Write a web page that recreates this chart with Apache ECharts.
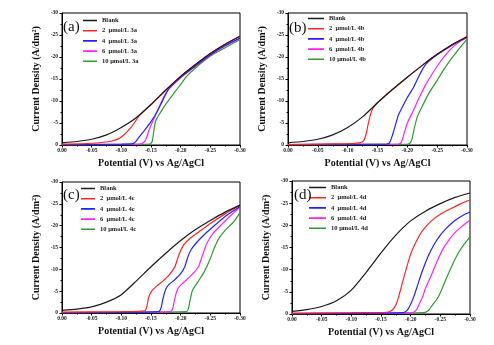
<!DOCTYPE html>
<html><head><meta charset="utf-8">
<script src="https://cdn.jsdelivr.net/npm/echarts@6/dist/echarts.min.js"></script>
<style>html,body{margin:0;padding:0;background:#fff}#c{width:494px;height:345px}</style>
</head><body><div id="c"></div>
<script>
// ---- data: [potential (V), current density (A/dm2)] ----
const panelLabels = ['(a)', '(b)', '(c)', '(d)'];
const suffixes = ['3a', '4b', '4c', '4d'];
const concLabels = ['Blank', '2  μmol/L', '4  μmol/L', '6  μmol/L', '10 μmol/L'];
const xTicks = [0, -0.05, -0.10, -0.15, -0.20, -0.25, -0.30];
const yTicks = [0, -5, -10, -15, -20, -25, -30];

const aBlank = [[0,-0.5],[-0.025,-0.8],[-0.05,-1.3],[-0.075,-2.3],[-0.1,-4.0],[-0.125,-6.2],[-0.15,-9.2],[-0.175,-12.5],[-0.2,-15.6],[-0.225,-18.3],[-0.25,-20.8],[-0.275,-22.9],[-0.3,-24.7]];
const a2 = [[0,-0.2],[-0.05,-0.4],[-0.08,-0.8],[-0.095,-1.4],[-0.105,-2.4],[-0.115,-3.8],[-0.122,-5.0],[-0.13,-6.6],[-0.15,-9.2],[-0.175,-12.5],[-0.2,-15.6],[-0.225,-18.3],[-0.25,-20.8],[-0.275,-22.9],[-0.3,-24.7]];
const a4 = [[0,-0.1],[-0.1,-0.2],[-0.12,-0.3],[-0.125,-0.9],[-0.13,-1.8],[-0.14,-3.5],[-0.15,-5.3],[-0.16,-7.5],[-0.17,-10.2],[-0.18,-12.8],[-0.2,-15.4],[-0.225,-18.0],[-0.25,-20.5],[-0.275,-22.6],[-0.3,-24.3]];
const a6 = [[0,-0.1],[-0.13,-0.2],[-0.137,-0.5],[-0.142,-1.5],[-0.147,-3.5],[-0.155,-6.0],[-0.165,-9.0],[-0.172,-11.0],[-0.18,-12.7],[-0.2,-15.3],[-0.225,-17.9],[-0.25,-20.4],[-0.275,-22.5],[-0.3,-24.2]];
const a10 = [[0,-0.05],[-0.148,-0.2],[-0.152,-0.8],[-0.155,-3.5],[-0.158,-5.5],[-0.165,-7.2],[-0.175,-9.3],[-0.19,-12.0],[-0.2,-13.8],[-0.21,-15.6],[-0.225,-17.5],[-0.25,-20.2],[-0.275,-22.1],[-0.3,-24.0]];

const bBlank = [[0,-0.5],[-0.025,-0.8],[-0.05,-1.3],[-0.075,-2.3],[-0.1,-4.0],[-0.125,-6.4],[-0.15,-9.6],[-0.175,-12.6],[-0.2,-15.4],[-0.225,-18.1],[-0.25,-20.6],[-0.275,-22.8],[-0.3,-24.6]];
const b2 = [[0,-0.1],[-0.1,-0.3],[-0.12,-0.5],[-0.127,-1.0],[-0.131,-2.5],[-0.134,-4.5],[-0.138,-6.8],[-0.142,-8.3],[-0.147,-9.2],[-0.15,-9.6],[-0.175,-12.6],[-0.2,-15.4],[-0.225,-18.1],[-0.25,-20.6],[-0.275,-22.8],[-0.3,-24.6]];
const b4 = [[0,-0.1],[-0.165,-0.2],[-0.17,-0.5],[-0.175,-2.2],[-0.18,-4.5],[-0.185,-6.8],[-0.19,-8.2],[-0.2,-10.8],[-0.21,-13.0],[-0.22,-15.8],[-0.227,-17.6],[-0.235,-18.9],[-0.25,-20.5],[-0.275,-22.7],[-0.3,-24.5]];
const b6 = [[0,-0.1],[-0.185,-0.2],[-0.19,-0.6],[-0.195,-2.8],[-0.2,-5.0],[-0.21,-7.8],[-0.22,-10.8],[-0.23,-13.5],[-0.24,-15.8],[-0.25,-17.9],[-0.26,-19.8],[-0.27,-21.4],[-0.28,-22.7],[-0.29,-23.7],[-0.3,-24.4]];
const b10 = [[0,-0.05],[-0.2,-0.2],[-0.205,-0.5],[-0.208,-1.5],[-0.212,-4.0],[-0.217,-6.5],[-0.225,-8.8],[-0.235,-11.5],[-0.25,-14.7],[-0.26,-16.9],[-0.27,-18.9],[-0.28,-20.7],[-0.29,-22.4],[-0.3,-24.0]];

const cBlank = [[0,-0.6],[-0.025,-0.9],[-0.05,-1.4],[-0.075,-2.5],[-0.1,-4.2],[-0.125,-7.3],[-0.15,-10.6],[-0.175,-13.7],[-0.2,-16.6],[-0.225,-19.1],[-0.25,-21.2],[-0.275,-23.1],[-0.3,-24.7]];
const c2 = [[0,-0.2],[-0.1,-0.3],[-0.14,-0.5],[-0.143,-1.5],[-0.146,-3.5],[-0.15,-4.8],[-0.16,-6.2],[-0.17,-7.3],[-0.18,-8.6],[-0.19,-10.5],[-0.195,-12.5],[-0.2,-14.3],[-0.205,-15.6],[-0.215,-17.0],[-0.23,-18.5],[-0.25,-20.5],[-0.275,-22.7],[-0.3,-24.6]];
const c4 = [[0,-0.1],[-0.163,-0.3],[-0.167,-1.2],[-0.17,-3.2],[-0.175,-5.5],[-0.18,-6.5],[-0.19,-7.6],[-0.2,-9.0],[-0.207,-10.6],[-0.212,-12.8],[-0.218,-14.6],[-0.23,-16.6],[-0.245,-18.6],[-0.26,-20.4],[-0.28,-22.6],[-0.3,-24.4]];
const c6 = [[0,-0.1],[-0.183,-0.3],[-0.187,-1.2],[-0.19,-3.3],[-0.195,-5.5],[-0.2,-6.4],[-0.21,-7.6],[-0.22,-8.9],[-0.23,-10.6],[-0.235,-12.5],[-0.24,-14.5],[-0.245,-16.2],[-0.255,-18.3],[-0.27,-20.4],[-0.285,-22.4],[-0.3,-24.2]];
const c10 = [[0,-0.05],[-0.21,-0.3],[-0.213,-1.0],[-0.216,-3.0],[-0.22,-5.2],[-0.23,-7.3],[-0.24,-9.5],[-0.25,-12.5],[-0.257,-15.0],[-0.265,-17.2],[-0.275,-18.9],[-0.29,-21.0],[-0.3,-23.0]];

const dBlank = [[0,-0.6],[-0.025,-1.0],[-0.05,-1.7],[-0.075,-3.0],[-0.1,-5.4],[-0.125,-9.4],[-0.15,-13.8],[-0.175,-17.8],[-0.2,-21.0],[-0.225,-23.2],[-0.25,-24.9],[-0.275,-26.3],[-0.3,-27.3]];
const d2 = [[0,-0.2],[-0.1,-0.3],[-0.16,-0.4],[-0.168,-0.8],[-0.175,-2.0],[-0.18,-4.0],[-0.185,-6.5],[-0.19,-9.0],[-0.2,-13.5],[-0.21,-16.5],[-0.22,-18.8],[-0.235,-21.0],[-0.25,-22.5],[-0.27,-23.9],[-0.285,-24.9],[-0.3,-25.7]];
const d4 = [[0,-0.1],[-0.188,-0.3],[-0.195,-1.0],[-0.2,-2.2],[-0.205,-3.8],[-0.21,-5.8],[-0.22,-9.8],[-0.23,-13.2],[-0.24,-15.8],[-0.25,-17.8],[-0.26,-19.3],[-0.27,-20.6],[-0.28,-21.6],[-0.29,-22.4],[-0.3,-23.0]];
const d6 = [[0,-0.1],[-0.203,-0.3],[-0.21,-1.0],[-0.215,-2.4],[-0.22,-3.8],[-0.225,-5.8],[-0.235,-8.8],[-0.245,-12.0],[-0.255,-14.8],[-0.265,-16.8],[-0.275,-18.4],[-0.285,-19.6],[-0.3,-21.2]];
const d10 = [[0,-0.05],[-0.222,-0.3],[-0.23,-0.8],[-0.235,-1.7],[-0.24,-2.6],[-0.245,-3.5],[-0.25,-4.8],[-0.26,-8.0],[-0.27,-11.0],[-0.28,-13.7],[-0.29,-15.7],[-0.3,-17.4]];

const panelData = [
  [aBlank, a2, a4, a6, a10],
  [bBlank, b2, b4, b6, b10],
  [cBlank, c2, c4, c6, c10],
  [dBlank, d2, d4, d6, d10]
];

// ---- layout / style ----
const colors = ['#1a1a1a', '#ff2424', '#2222ff', '#ff22ff', '#2f9a2f'];
const grids = [
  {left: 62, top: 13, width: 178, height: 132},
  {left: 288, top: 13, width: 179, height: 132},
  {left: 62, top: 182, width: 178, height: 131},
  {left: 292, top: 181, width: 178, height: 133}
];
const legendPos = [
  {left: 83, top: 17, itemWidth: 14},
  {left: 308, top: 15, itemWidth: 16},
  {left: 81, top: 185, itemWidth: 14},
  {left: 309, top: 184, itemWidth: 17}
];
const labelPos = [[63, 20], [289, 21], [63, 188], [294, 188]];
const serif = '"Liberation Serif", "Times New Roman", serif';
const lineIcon = 'path://M0,0h0.01v0.01h-0.01z M0,2.2h20v1.6h-20z M0,5.99h0.01v0.01h-0.01z';

const option = {
  animation: false,
  backgroundColor: '#fff',
  grid: grids.map(g => Object.assign({show: true, borderColor: '#000', borderWidth: 1, containLabel: false}, g)),
  xAxis: grids.map((g, i) => ({
    type: 'value', gridIndex: i, min: -0.3, max: 0, interval: 0.05, inverse: true,
    name: 'Potential (V) vs Ag/AgCl', nameLocation: 'middle', nameGap: 13,
    nameTextStyle: {fontFamily: serif, fontWeight: 'bold', fontSize: 10, color: '#111'},
    axisLine: {lineStyle: {color: '#000', width: 1}},
    axisTick: {show: true, inside: false, length: 2.5, lineStyle: {color: '#000'}},
    minorTick: {show: true, splitNumber: 2, length: 1.5, lineStyle: {color: '#000'}},
    splitLine: {show: false},
    axisLabel: {fontFamily: serif, fontWeight: 'bold', fontSize: 5.5, color: '#222', margin: 3,
      formatter: v => (Math.abs(v) < 1e-9 ? '0.00' : v.toFixed(2))}
  })),
  yAxis: grids.map((g, i) => ({
    type: 'value', gridIndex: i, min: -30, max: 0, interval: 5, inverse: true,
    name: 'Current Density (A/dm²)', nameLocation: 'middle', nameGap: 21, nameRotate: 90,
    nameTextStyle: {fontFamily: serif, fontWeight: 'bold', fontSize: 10, color: '#111'},
    axisLine: {lineStyle: {color: '#000', width: 1}},
    axisTick: {show: true, inside: false, length: 2.5, lineStyle: {color: '#000'}},
    minorTick: {show: true, splitNumber: 2, length: 1.5, lineStyle: {color: '#000'}},
    splitLine: {show: false},
    axisLabel: {fontFamily: serif, fontWeight: 'bold', fontSize: 5.5, color: '#222', margin: 4,
      formatter: v => (Math.abs(v) < 1e-9 ? '0' : String(v))}
  })),
  legend: legendPos.map((p, i) => ({
    left: p.left, top: p.top, orient: 'vertical', padding: 0,
    itemWidth: p.itemWidth, itemHeight: 6, itemGap: 3.2,
    icon: lineIcon, symbolKeepAspect: false,
    textStyle: {fontFamily: serif, fontWeight: 'bold', fontSize: 6.5, color: '#222', lineHeight: 6},
    data: concLabels.map((c, k) => k === 0 ? 'Blank' : c + ' ' + suffixes[i])
  })),
  graphic: labelPos.map((p, i) => ({
    type: 'text', left: p[0], top: p[1], z: 100,
    style: {text: panelLabels[i], font: '15px ' + serif, fill: '#111'}
  })),
  series: []
};

panelData.forEach((list, i) => {
  list.forEach((data, k) => {
    option.series.push({
      type: 'line', xAxisIndex: i, yAxisIndex: i,
      name: k === 0 ? 'Blank' : concLabels[k] + ' ' + suffixes[i],
      data: data, symbol: 'none', smooth: 0.2,
      color: colors[k],
      itemStyle: {color: colors[k]},
      lineStyle: {color: colors[k], width: 1.2},
      z: 10 - k
    });
  });
});

const chart = echarts.init(document.getElementById('c'), null, {renderer: 'canvas'});
chart.setOption(option);
</script></body></html>
